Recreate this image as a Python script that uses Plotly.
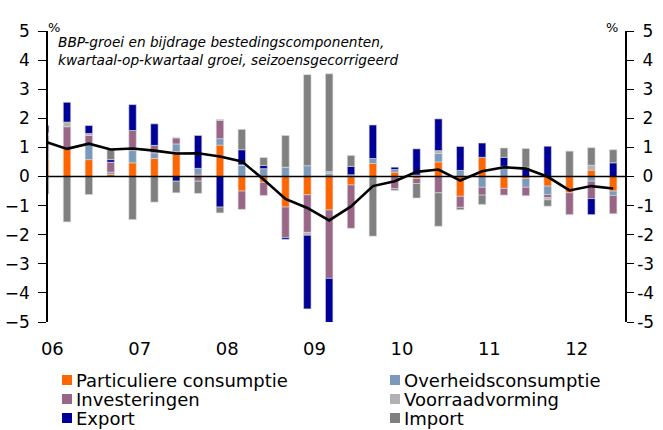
import plotly.graph_objects as go

# quarters 2006Q1 .. 2012Q3 (first one sits behind the left axis)
quarters = list(range(27))
year_labels = ['06', '07', '08', '09', '10', '11', '12']

particuliere = [0.6, 0.96, 0.58, 0.07, 0.47, 0.62, 0.85, 0.05, 1.08, -0.5, -0.2, -1.05, -0.63, -1.15,
                -0.29, 0.45, 0.15, -0.07, 0.5, -0.68, 0.66, -0.41, -0.07, -0.33, -0.56, 0.22, -0.5]
overheid = [0.25, 0.0, 0.52, 0.08, 0.42, 0.19, 0.27, 0.23, 0.22, 0.38, 0.27, 0.32, 0.37, 0.1,
            0.06, 0.17, 0.09, 0.05, 0.29, 0.21, -0.37, 0.35, -0.3, -0.29, 0.0, -0.16, -0.15]
investeringen = [0.55, 0.75, 0.31, 0.34, 0.69, 0.26, 0.21, -0.16, 0.63, -0.63, -0.45, -1.05, -1.29, -2.35,
                 -1.49, 0.0, -0.42, -0.17, -0.56, -0.38, -0.27, -0.23, -0.29, -0.11, -0.75, -0.6, -0.63]
voorraad = [0.1, 0.16, 0.07, 0.0, 0.0, 0.0, 0.0, 0.0, 0.03, 0.02, 0.0, 0.0, -0.1, 0.07,
            0.0, 0.0, 0.0, 0.0, 0.1, 0.0, 0.0, 0.0, 0.0, -0.07, 0.0, 0.17, 0.0]
export = [0.25, 0.68, 0.27, 0.09, 0.89, 0.74, -0.16, 1.13, -1.05, 0.52, 0.11, -0.06, -2.53, -1.6,
          0.29, 1.15, 0.08, 0.9, 1.09, 0.82, 0.49, 0.31, 0.32, 1.04, 0.0, -0.55, 0.47]
importen = [-0.6, -1.56, -0.62, 0.34, -1.48, -0.88, -0.4, -0.42, -0.2, 0.7, 0.27, 1.09, 3.13, 3.36,
            0.37, -2.05, -0.06, -0.5, -1.15, -0.08, -0.32, 0.32, 0.64, -0.22, 0.87, 0.6, 0.45]
bbp = [1.2, 0.95, 1.13, 0.93, 0.96, 0.89, 0.79, 0.8, 0.69, 0.52, -0.1, -0.77, -1.08, -1.51,
       -1.03, -0.33, -0.16, 0.16, 0.24, -0.14, 0.18, 0.32, 0.27, -0.01, -0.48, -0.33, -0.41]

names = ['Particuliere consumptie', 'Overheidsconsumptie', 'Investeringen',
         'Voorraadvorming', 'Export', 'Import']
colors = ['#FF6600', '#7A99BB', '#996688', '#B2B2B2', '#000099', '#808080']
series = [particuliere, overheid, investeringen, voorraad, export, importen]

FONT = 'DejaVu Sans'
W, H = 663, 430
L, R, T, B = 48, 38, 31, 108
PLOT_W = W - L - R
PLOT_H = H - T - B


def px_x(px):
    return (px - L) / PLOT_W


def px_y(py):
    return (H - B - py) / PLOT_H


fig = go.Figure()
for name, col, vals in zip(names, colors, series):
    fig.add_trace(go.Bar(x=quarters, y=vals, name=name, width=0.34,
                         marker=dict(color=col, line=dict(color='#DADADA', width=0.6)),
                         showlegend=False))

fig.add_trace(go.Scatter(x=quarters, y=bbp, mode='lines', name='BBP',
                         line=dict(color='black', width=2.6), showlegend=False))
fig.add_trace(go.Scatter(x=[], y=[], yaxis='y2', showlegend=False))

yticks = list(range(-5, 6))
# right-hand labels padded so the digits line up like the original
yticks_right = [str(v) if v < 0 else '\u00a0' + str(v) for v in yticks]

fig.update_layout(
    width=W, height=H,
    margin=dict(l=L, r=R, t=T, b=B),
    barmode='relative',
    plot_bgcolor='white', paper_bgcolor='white',
    font=dict(family=FONT, color='black'),
    xaxis=dict(range=[0.13, 26.54], showgrid=False, zeroline=False, showline=False,
               automargin=False,
               tickvals=[0.33 + 4 * i for i in range(len(year_labels))], ticktext=year_labels,
               ticks='outside', ticklen=10, tickcolor='rgba(0,0,0,0)',
               tickfont=dict(size=18, family=FONT)),
    yaxis=dict(range=[-5, 5], tickvals=yticks, showgrid=False, zeroline=False,
               automargin=False,
               showline=True, linecolor='black', linewidth=1.5,
               ticks='outside', ticklen=8, tickcolor='black', ticklabelstandoff=5,
               tickfont=dict(size=17, family=FONT)),
    yaxis2=dict(range=[-5, 5], tickvals=yticks, ticktext=yticks_right,
                overlaying='y', side='right', anchor='x',
                showgrid=False, zeroline=False, automargin=False,
                showline=True, linecolor='black', linewidth=1.5,
                ticks='outside', ticklen=7, tickcolor='black',
                tickfont=dict(size=17, family=FONT)),
)

# zero line on top of the bars
fig.add_shape(type='line', xref='paper', yref='y', x0=0, x1=1, y0=0, y1=0,
              line=dict(color='black', width=1.5), layer='above')

fig.add_annotation(text='<i>BBP-groei en bijdrage bestedingscomponenten,<br>'
                        'kwartaal-op-kwartaal groei, seizoensgecorrigeerd</i>',
                   xref='paper', yref='paper', x=px_x(56), y=px_y(32),
                   xanchor='left', yanchor='top', align='left', showarrow=False,
                   font=dict(size=13.7, family=FONT))
fig.add_annotation(text='%', xref='paper', yref='paper', x=px_x(46), y=px_y(18),
                   showarrow=False, font=dict(size=13, family=FONT))
fig.add_annotation(text='%', xref='paper', yref='paper', x=px_x(620), y=px_y(18),
                   showarrow=False, font=dict(size=13, family=FONT))

# legend: two columns, three rows
col_x = [62, 390]
row_y = [380, 399, 418]
for i, (name, col) in enumerate(zip(names, colors)):
    sx = col_x[i % 2]
    sy = row_y[i // 2]
    fig.add_shape(type='rect', xref='paper', yref='paper',
                  x0=px_x(sx), x1=px_x(sx + 10), y0=px_y(sy - 5), y1=px_y(sy + 5),
                  fillcolor=col, line=dict(width=0))
    fig.add_annotation(text=name, xref='paper', yref='paper', x=px_x(sx + 12), y=px_y(sy),
                       xanchor='left', yanchor='middle', showarrow=False,
                       font=dict(size=18, family=FONT))

# drop the default 8px body margin so the figure fills the window
fig.write_html('out.html', config={'displayModeBar': False},
               post_script="document.body.style.margin='0';document.body.style.overflow='hidden';")
